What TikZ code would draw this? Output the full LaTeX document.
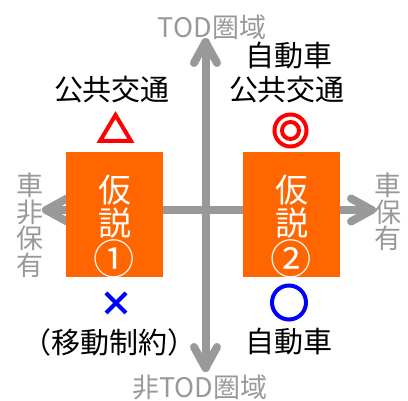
\documentclass[tikz,border=0pt]{standalone}
\usepackage{fontspec}
\setmainfont{Noto Sans CJK JP}
\definecolor{axisgray}{RGB}{153,153,153}
\definecolor{boxorange}{RGB}{255,102,0}
\begin{document}
\begin{tikzpicture}[x=1pt,y=-1pt,
  axis/.style={line width=8pt, draw=axisgray, line cap=round, line join=round},
  hbox/.style={fill=boxorange, minimum width=97pt, minimum height=125pt, inner sep=0pt},
  hboxtext/.style={inner sep=0pt, text=white, align=center, font=\fontsize{33}{33.5}\selectfont},
  lbl/.style={inner sep=0pt, font=\fontsize{29}{29}\selectfont},
  glbl/.style={inner sep=0pt, text=axisgray, font=\fontsize{27}{27}\selectfont},
  vlbl/.style={inner sep=0pt, text=axisgray, align=center, font=\fontsize{27}{26.5}\selectfont},
  sym/.style={line width=4pt}]
\useasboundingbox (0,0) rectangle (408,401);
% axes
\coordinate (top) at (205.5,42);
\coordinate (bot) at (205.5,368);
\coordinate (lft) at (46,210);
\coordinate (rgt) at (372,210);
\coordinate (tw1) at (194,63);
\coordinate (tw2) at (217,63);
\coordinate (bw1) at (194,347);
\coordinate (bw2) at (217,347);
\coordinate (lw1) at (67,198.5);
\coordinate (lw2) at (67,221.5);
\coordinate (rw1) at (351,198.5);
\coordinate (rw2) at (351,221.5);
\draw[axis] (top) -- (bot);
\draw[axis] (lft) -- (rgt);
\draw[axis] (tw1) -- (top) -- (tw2);
\draw[axis] (bw1) -- (bot) -- (bw2);
\draw[axis] (lw1) -- (lft) -- (lw2);
\draw[axis] (rw1) -- (rgt) -- (rw2);
% boxes
\node[hbox] (h1) at (114.5,214.5) {};
\node[hbox] (h2) at (291.5,214.5) {};
\node[hboxtext] (h1t) at (114.5,226.5) {仮\\説\\\scalebox{1.25}{①}};
\node[hboxtext] (h2t) at (291.5,226.5) {仮\\説\\\scalebox{1.25}{②}};
% symbols
\draw[sym, red, line join=miter] (115.5,115) -- (100,141) -- (131,141) -- cycle;
\draw[sym, red] (290.5,130.5) circle[radius=16];
\draw[sym, red] (290.5,130.5) circle[radius=8.5];
\draw[sym, blue] (106,293) -- (126,313) (106,313) -- (126,293);
\draw[sym, blue] (289,302.5) circle[radius=17];
% labels
\node[glbl] (tod) at (212,27) {TOD圏域};
\node[glbl] (ntod) at (200,387) {非TOD圏域};
\node[lbl] (car1) at (289,56) {自動車};
\node[lbl] (pt2) at (287,90) {公共交通};
\node[lbl] (pt1) at (112,90) {公共交通};
\node[lbl] (cons) at (110,342) {（移動制約）};
\node[lbl] (car2) at (289,342) {自動車};
\node[vlbl] (nocar) at (30,225) {車\\非\\保\\有};
\node[vlbl] (carown) at (388,212) {車\\保\\有};
\end{tikzpicture}
\end{document}
